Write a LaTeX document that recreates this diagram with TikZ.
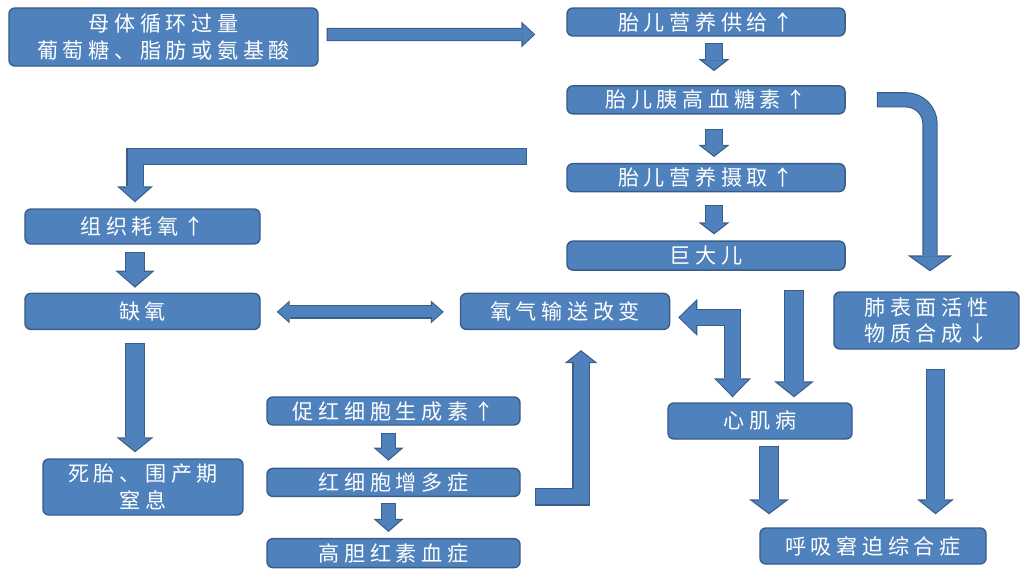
\documentclass[tikz,border=0pt]{standalone}
\usepackage{fontspec}
\newfontfamily\cjk[LetterSpace=22]{Noto Sans CJK SC}
\usetikzlibrary{arrows.meta,positioning,calc}

\definecolor{boxblue}{HTML}{4F81BD}
\definecolor{boxedge}{HTML}{385D8A}

% block arrow: [tips]{shaft}{head width}{head length}{path}, sizes in px
\newcommand{\flow}[5][->]{%
  \def\flowtips{#1}\def\flowdbl{<->}%
  \ifx\flowtips\flowdbl\def\flowtail{1.1pt}\else\def\flowtail{0.8pt}\fi
  \pgfmathsetlengthmacro\flowW{#2*0.7113pt}%
  \pgfmathsetlengthmacro\flowWo{#2*0.7113pt+1.6pt}%
  \pgfmathsetlengthmacro\tipW{#3*0.7113pt}%
  \pgfmathsetlengthmacro\tipL{#4*0.7113pt}%
  \pgfmathsetlengthmacro\tipl{#4*0.7113pt-2pt}%
  \pgfmathsetlengthmacro\tipw{\tipl*#3/#4}%
  \draw[flowedge, line width=\flowWo, >={Triangle[length=\tipL, width=\tipW, line width=0pt]}, #1] #5;
  \draw[flowfill, line width=\flowW, >={Triangle[length=\tipl, width=\tipw, line width=0pt]}, #1,
    shorten <=\flowtail, shorten >=1.1pt] #5;
}

\begin{document}
\begin{tikzpicture}[
    x=0.025cm, y=-0.025cm,
    box/.style={draw=boxedge, fill=boxblue, line width=1pt, rounded corners=0.15cm, text=white,
      font=\cjk\fontsize{15pt}{19pt}\selectfont, align=center, inner sep=0pt, minimum height=0.7cm},
    flowedge/.style={draw=boxedge, line join=miter},
    flowfill/.style={draw=boxblue, line join=miter},
  ]
  \useasboundingbox (0,0) rectangle (1024,575);

  % Boxes
  \node[box, minimum width=7.725cm, minimum height=1.45cm] (muti) at (163.5,37) {母体循环过量\\葡萄糖、脂肪或氨基酸};
  \node[box, minimum width=6.95cm] (gonggei) at (706,22) {胎儿营养供给↑};
  \node[box, minimum width=6.95cm, below=1.21cm of gonggei] (yigao) {胎儿胰高血糖素↑};
  \node[box, minimum width=6.95cm, below=1.21cm of yigao] (sheqi) {胎儿营养摄取↑};
  \node[box, minimum width=6.95cm, minimum height=0.725cm, below=1.2cm of sheqi] (judaer) {巨大儿};
  \node[box, minimum width=5.875cm, minimum height=0.875cm] (zuzhi) at (142.5,226.5) {组织耗氧↑};
  \node[box, minimum width=5.875cm, minimum height=0.9cm, below=1.2cm of zuzhi] (queyang) {缺氧};
  \node[box, minimum width=5.225cm, minimum height=0.9cm, right=4.975cm of queyang] (yangqi) {氧气输送改变};
  \node[box, minimum width=4.625cm, minimum height=1.425cm] (feibiao) at (926.5,320.5) {肺表面活性\\物质合成↓};
  \node[box, minimum width=5cm, minimum height=1.4cm] (sitai) at (143,487) {死胎、围产期\\窒息};
  \node[box, minimum width=6.325cm] (cuhong) at (393.5,411) {促红细胞生成素↑};
  \node[box, minimum width=6.325cm, below=1.05cm of cuhong] (hongxibao) {红细胞增多症};
  \node[box, minimum width=6.325cm, minimum height=0.725cm, below=1.02cm of hongxibao] (gaodan) {高胆红素血症};
  \node[box, minimum width=4.6cm, minimum height=0.9cm] (xinji) at (760,421) {心肌病};
  \node[box, minimum width=5.65cm, minimum height=0.9cm] (huxi) at (873,546) {呼吸窘迫综合症};
  \coordinate (split) at (527,156.5);

  % Arrows
  \flow{11}{26}{14}{($(muti.east)+(8,-2.5)$) -- ($(gonggei.west)+(-31,12.5)$)};
  \flow{16}{31}{12}{($(gonggei.south)+(8,6)$) -- ($(yigao.north)+(8,-14)$)};
  \flow{16}{31}{12}{($(yigao.south)+(8,14)$) -- ($(sheqi.north)+(8,-6)$)};
  \flow{16}{31}{12}{($(sheqi.south)+(8,13)$) -- ($(judaer.north)+(8,-6)$)};
  \flow{13}{45}{16}{[rounded corners=0.6cm] ($(yigao.east)+(31,0)$) -| ($(feibiao.north)+(3.5,-20)$)};
  \flow{15}{36}{16}{(split) -| ($(zuzhi.north)+(-7.5,-6)$)};
  \flow{18}{39}{17}{($(zuzhi.south)+(-7.5,7)$) -- ($(queyang.north)+(-7.5,-5)$)};
  \flow[<->]{11}{23}{13}{($(queyang.east)+(16,0.5)$) -- ($(yangqi.west)+(-16,0.5)$)};
  \flow{18}{37}{15}{($(queyang.south)+(-7.5,13)$) -- ($(sitai.north)+(-8,-6)$)};
  \flow{13}{30}{13}{($(cuhong.south)+(-5,7)$) -- ($(hongxibao.north)+(-5,-7)$)};
  \flow{13}{30}{13}{($(hongxibao.south)+(-5,6)$) -- ($(gaodan.north)+(-5,-6)$)};
  \flow{15}{33}{13}{($(hongxibao.east)+(14,14.5)$) -| ($(yangqi.south)+(16,20)$)};
  \flow[<->]{15}{37}{19}{($(yangqi.east)+(8,6)$) -| ($(xinji.north)+(-27.5,-5)$)};
  \flow{18}{40}{16}{($(judaer.south)+(88,19)$) -- ($(judaer.south |- xinji.north)+(88,-5)$)};
  \flow{18}{40}{15}{($(xinji.south)+(9,6)$) -- ($(xinji.south |- huxi.north)+(9,-13)$)};
  \flow{17}{37}{15}{($(feibiao.south)+(9,19)$) -- ($(feibiao.south |- huxi.north)+(9,-13)$)};
\end{tikzpicture}
\end{document}
